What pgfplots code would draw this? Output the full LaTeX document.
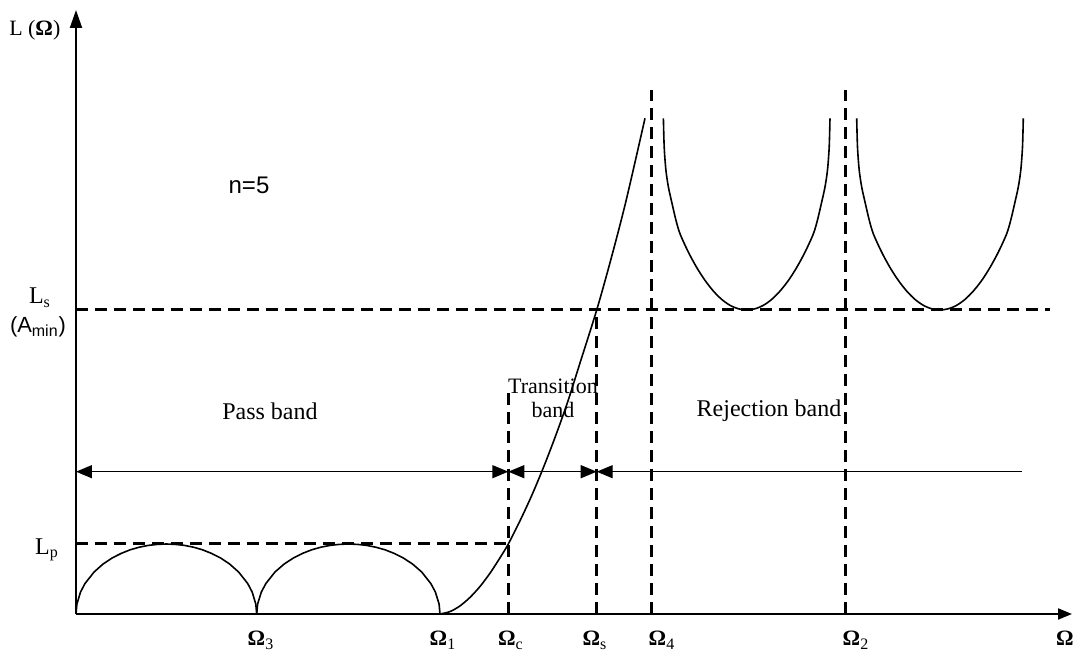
\documentclass[border=0pt,11pt]{standalone}
\usepackage{fontspec}
\setmainfont{Liberation Serif}
\setsansfont{Liberation Sans}
\usepackage{pgfplots}
\pgfplotsset{compat=1.18}
\usetikzlibrary{arrows.meta}
\tikzset{dsh/.style={black, line width=1.5pt, dash pattern=on 6pt off 3.5pt},
         crv/.style={black, line width=0.8pt},
         bnd/.style={black, line width=0.7pt, >={Triangle[length=8pt,width=6.5pt]}}}
\begin{document}
\begin{tikzpicture}
\useasboundingbox (-38pt,-19pt) rectangle (498.5pt,307pt);
\begin{axis}[at={(0,0)}, anchor=south west, scale only axis,
  width=498pt, height=302pt,
  xmin=0, xmax=996, ymin=0, ymax=604,
  axis lines=left, xtick=\empty, ytick=\empty, clip=false,
  axis line style={line width=1pt},
  x axis line style={-{Triangle[length=7pt,width=5.5pt]}},
  y axis line style={-{Triangle[length=9pt,width=6pt]}}]
% dashed reference lines
\addplot[dsh] coordinates {(0,70) (432.3,70)};
\addplot[dsh] coordinates {(0,304) (974,304)};
\addplot[dsh] coordinates {(432.3,0) (432.3,221)};
\addplot[dsh] coordinates {(520.7,0) (520.7,304)};
\addplot[dsh] coordinates {(575.7,0) (575.7,524)};
\addplot[dsh] coordinates {(769,0) (769,524)};
% band arrows
\addplot[bnd, <->] coordinates {(0,142.3) (432.3,142.3)};
\addplot[bnd, <->] coordinates {(432.3,142.3) (520.7,142.3)};
\addplot[bnd, <-] coordinates {(520.7,142.3) (946,142.3)};
% pass band ripples
\addplot[crv] coordinates {(0,0) (0.9,9.9) (4.5,21.9) (9.0,30.5) (18.1,42) (27.1,50) (36.1,56) (45.2,60.6) (54.2,64.2) (63.2,66.8) (72.3,68.6) (81.3,69.6) (90.35,70)
 (99.4,69.6) (108.4,68.6) (117.5,66.8) (126.5,64.2) (135.5,60.6) (144.6,56) (153.6,50) (162.6,42) (171.7,30.5) (176.2,21.9) (179.8,9.9) (180.7,0)};
\addplot[crv] coordinates {(180.7,0) (181.6,9.9) (185.3,21.9) (189.9,30.5) (199.0,42) (208.2,50) (217.4,56) (226.5,60.6) (235.7,64.2) (244.9,66.8) (254.0,68.6) (263.2,69.6) (272.35,70)
 (281.5,69.6) (290.7,68.6) (299.8,66.8) (309.0,64.2) (318.2,60.6) (327.3,56) (336.5,50) (345.7,42) (354.8,30.5) (359.4,21.9) (363.1,9.9) (364,0)};
% transition region
\addplot[crv, smooth] coordinates {(364,0) (374,2.4) (384,8.1) (394,16.6) (404,27.5) (414,40.8) (424,56.2) (432.3,70) (444,93.2) (456,119.1) (468,147.9) (480,179.2) (492,213.1) (504,251) (520.7,304) (535,355) (550,413) (569,495.7)};
% rejection band lobes
\addplot[crv, smooth] coordinates {(587.4,495.7) (588.2,467) (589.9,444) (592.4,427) (595.7,412) (599.9,394) (604.1,380) (612.4,361.8) (620.7,346.5) (629.1,333.5) (637.4,322.9) (645.7,314.6) (654.0,308.7) (662.4,305.2) (670.7,304)
 (679.0,305.2) (687.4,308.7) (695.7,314.6) (704.0,322.9) (712.4,333.5) (720.7,346.5) (729.0,361.8) (737.3,380) (741.5,394) (745.7,412) (749.0,427) (751.5,444) (753.2,467) (754.0,495.7)};
\addplot[crv, smooth] coordinates {(780.7,495.7) (781.5,467) (783.2,444) (785.7,427) (789.0,412) (793.2,394) (797.4,380) (805.7,361.8) (814.0,346.5) (822.4,333.5) (830.7,322.9) (839.0,314.6) (847.3,308.7) (855.7,305.2) (864.0,304)
 (872.3,305.2) (880.7,308.7) (889.0,314.6) (897.3,322.9) (905.7,333.5) (914.0,346.5) (922.3,361.8) (930.6,380) (934.8,394) (939.0,412) (942.3,427) (944.8,444) (946.5,467) (947.3,495.7)};
% texts
\node[anchor=east] at (axis cs:-8,584) {L (\textbf{Ω})};
\node[font=\fontsize{12}{14}\selectfont] at (axis cs:-36,316) {L\textsubscript{s}};
\node at (axis cs:-38,287) {\sffamily (A\textsubscript{min})};
\node[font=\fontsize{12}{14}\selectfont] at (axis cs:-29,64) {L\textsubscript{p}};
\node[font=\fontsize{12}{14}\selectfont] at (axis cs:173,429) {\sffamily n=5};
\node[font=\fontsize{12}{14}\selectfont] at (axis cs:194,203) {Pass band};
\node[align=center, font=\fontsize{11}{12}\selectfont] at (axis cs:477,216) {Transition\\band};
\node[font=\fontsize{12}{14}\selectfont] at (axis cs:693,203) {Rejection band};
\node[anchor=base] at (axis cs:185,-32) {\textbf{Ω}\textsubscript{3}};
\node[anchor=base] at (axis cs:367,-32) {\textbf{Ω}\textsubscript{1}};
\node[anchor=base] at (axis cs:435,-32) {\textbf{Ω}\textsubscript{c}};
\node[anchor=base] at (axis cs:519,-32) {\textbf{Ω}\textsubscript{s}};
\node[anchor=base] at (axis cs:586,-32) {\textbf{Ω}\textsubscript{4}};
\node[anchor=base] at (axis cs:780,-32) {\textbf{Ω}\textsubscript{2}};
\node[anchor=base] at (axis cs:989,-32) {\textbf{Ω}};
\end{axis}
\end{tikzpicture}
\end{document}
